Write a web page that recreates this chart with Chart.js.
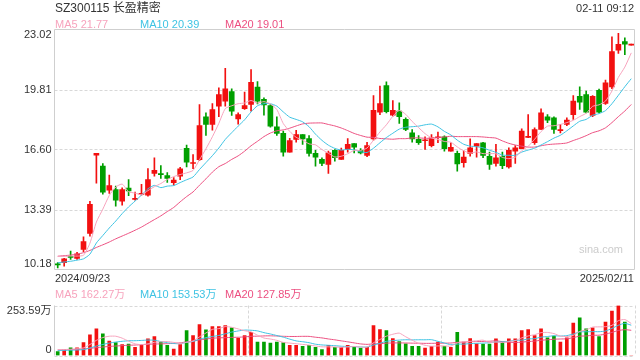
<!DOCTYPE html>
<html>
<head>
<meta charset="utf-8">
<script src="https://cdn.jsdelivr.net/npm/chart.js@4.4.1/dist/chart.umd.min.js"></script>
<style>
	body { margin: 0; background: #fff; }
	#wrap { position: relative; width: 640px; height: 360px; overflow: hidden; font-family: 'Liberation Sans', Arial, 'Noto Sans CJK SC', sans-serif; color: #333; }
	#wrap canvas { position: absolute; left: 0; }
	.t { position: absolute; white-space: nowrap; line-height: 16px; font-size: 11px; }
</style>
</head>
<body>
<div id="wrap">
	<canvas id="kline" width="640" height="272" style="top:0"></canvas>
	<canvas id="vol" width="640" height="88" style="top:272px"></canvas>
	<div class="t" id="title" style="left:55px;top:0;font-size:12px"></div>
	<div class="t" id="time" style="right:6px;top:0"></div>
	<div class="t" id="ma5" style="left:55px;top:16px"></div>
	<div class="t" id="ma10" style="left:140px;top:16px"></div>
	<div class="t" id="ma20" style="left:225px;top:16px"></div>
	<div class="t" id="startDate" style="left:55px;top:270px"></div>
	<div class="t" id="endDate" style="right:6px;top:270px"></div>
	<div class="t" id="vma5" style="left:55px;top:286px"></div>
	<div class="t" id="vma10" style="left:140px;top:286px"></div>
	<div class="t" id="vma20" style="left:225px;top:286px"></div>
	<div class="t" style="right:17px;top:241px;color:#ccc">sina.com</div>
</div>
<script>
const stockName = 'SZ300115 长盈精密'
const quoteTime = '02-11 09:12'
const startDate = '2024/09/23'
const endDate = '2025/02/11'

// daily candles, 2024/09/23 .. 2025/02/11
const open = [10.45, 10.54, 10.86, 10.77, 11.25, 12.11, 16.30, 15.71, 14.42, 14.46,
	13.83, 14.53, 13.93, 14.20, 14.15, 15.32, 15.31, 15.21, 14.82, 15.17,
	16.66, 15.85, 16.06, 18.35, 17.94, 18.92, 19.18, 19.70, 18.24, 18.79,
	19.01, 19.94, 19.28, 18.95, 17.81, 17.46, 16.46, 17.14, 17.40, 17.19,
	16.39, 16.07, 15.80, 16.55, 16.07, 16.60, 16.92, 16.56, 16.28, 17.17,
	18.60, 20.02, 18.44, 18.65, 18.21, 17.49, 17.14, 17.07, 16.81, 17.23,
	17.28, 16.51, 16.39, 15.89, 16.39, 16.78, 16.96, 16.24, 15.85, 16.24,
	15.67, 16.51, 16.64, 17.25, 16.96, 17.67, 18.35, 18.30, 17.61, 17.94,
	18.47, 19.44, 19.54, 18.42, 19.77, 19.06, 19.95, 21.91, 22.38, 22.18]
const close = [10.43, 10.75, 10.83, 11.02, 11.68, 13.66, 16.39, 14.32, 14.67, 13.89,
	14.46, 14.38, 13.96, 14.23, 14.99, 15.48, 15.26, 15.05, 14.96, 15.57,
	15.92, 15.90, 17.88, 17.94, 18.74, 19.54, 19.85, 18.65, 18.47, 18.95,
	20.20, 19.19, 18.99, 17.85, 17.46, 16.46, 17.08, 17.40, 17.17, 16.39,
	16.19, 15.85, 16.42, 16.16, 16.56, 16.87, 16.72, 16.42, 16.81, 18.70,
	19.06, 18.63, 18.69, 18.35, 17.67, 17.17, 16.96, 17.08, 17.23, 17.26,
	16.64, 16.72, 15.83, 16.19, 16.69, 16.92, 16.28, 15.80, 16.16, 15.74,
	16.55, 16.69, 17.58, 17.28, 17.67, 18.56, 18.17, 17.67, 17.62, 18.17,
	19.19, 19.13, 18.60, 19.45, 18.60, 20.17, 21.84, 22.22, 22.24, 22.18]
const high = [10.55, 10.78, 11.16, 11.10, 11.93, 13.83, 16.39, 15.85, 15.23, 14.64,
	14.55, 14.99, 14.32, 14.73, 15.58, 16.16, 15.74, 15.37, 15.10, 15.64,
	16.83, 16.33, 19.00, 18.56, 19.06, 19.90, 20.94, 19.85, 18.56, 19.67,
	20.88, 20.23, 19.37, 19.00, 18.35, 17.58, 17.20, 17.63, 17.40, 17.35,
	16.56, 16.16, 16.51, 16.60, 16.67, 17.19, 16.92, 16.65, 16.99, 19.49,
	19.99, 20.22, 19.22, 19.10, 18.30, 17.67, 17.35, 17.28, 17.40, 17.53,
	17.33, 16.96, 16.51, 16.53, 17.17, 16.92, 16.99, 16.46, 16.87, 16.46,
	16.69, 16.81, 17.71, 18.47, 17.76, 18.78, 18.47, 18.35, 17.94, 18.30,
	19.49, 19.95, 19.72, 19.49, 19.83, 20.31, 22.63, 22.81, 22.58, 22.18]
const low = [10.27, 10.36, 10.72, 10.72, 11.13, 11.96, 14.80, 14.21, 14.25, 13.57,
	13.62, 14.13, 13.89, 14.15, 14.10, 15.17, 15.05, 14.84, 14.69, 14.99,
	15.67, 15.57, 16.00, 17.35, 17.63, 18.35, 18.92, 18.42, 17.95, 18.74,
	18.65, 19.04, 18.43, 17.79, 17.35, 16.24, 16.46, 16.99, 16.87, 16.24,
	15.71, 15.74, 15.32, 15.98, 16.07, 16.46, 16.42, 16.37, 16.21, 17.10,
	18.47, 18.56, 18.38, 18.00, 17.61, 16.99, 16.87, 16.60, 16.74, 16.96,
	16.51, 16.51, 15.44, 15.65, 16.24, 16.19, 16.16, 15.53, 15.71, 15.57,
	15.60, 15.85, 16.64, 17.23, 16.87, 17.67, 18.03, 17.46, 17.49, 17.88,
	18.21, 18.74, 18.56, 18.35, 18.56, 19.01, 19.85, 21.74, 21.68, 22.18]

// price moving averages as drawn on the chart
const ma5 = [10.88, 10.88, 10.90, 10.90, 10.94, 11.59, 12.72, 13.41, 14.14, 14.59,
	14.75, 14.34, 14.27, 14.18, 14.40, 14.61, 14.78, 15.00, 15.15, 15.26,
	15.35, 15.48, 16.05, 16.64, 17.28, 18.00, 18.79, 18.94, 19.05, 19.09,
	19.22, 19.09, 19.16, 19.04, 18.74, 17.99, 17.57, 17.25, 17.11, 16.90,
	16.85, 16.60, 16.40, 16.20, 16.24, 16.37, 16.55, 16.55, 16.68, 17.10,
	17.54, 17.92, 18.38, 18.69, 18.48, 18.10, 17.77, 17.45, 17.22, 17.14,
	17.03, 16.99, 16.74, 16.53, 16.41, 16.47, 16.38, 16.38, 16.37, 16.18,
	16.11, 16.19, 16.54, 16.77, 17.15, 17.56, 17.85, 17.87, 17.94, 18.04,
	18.16, 18.36, 18.54, 18.91, 18.99, 19.19, 19.73, 20.46, 21.01, 21.77]
const ma10 = [10.54, 10.58, 10.62, 10.68, 10.75, 11.00, 11.60, 12.00, 12.40, 12.77,
	13.17, 13.53, 13.84, 14.16, 14.50, 14.68, 14.56, 14.64, 14.67, 14.83,
	14.98, 15.13, 15.53, 15.90, 16.27, 16.68, 17.14, 17.50, 17.85, 18.19,
	18.61, 18.94, 19.05, 19.05, 18.92, 18.61, 18.33, 18.21, 18.08, 17.82,
	17.42, 17.09, 16.83, 16.66, 16.57, 16.61, 16.58, 16.48, 16.44, 16.67,
	16.96, 17.24, 17.47, 17.69, 17.79, 17.82, 17.85, 17.92, 17.96, 17.81,
	17.57, 17.38, 17.10, 16.88, 16.78, 16.75, 16.69, 16.56, 16.45, 16.30,
	16.29, 16.29, 16.46, 16.57, 16.67, 16.84, 17.02, 17.21, 17.36, 17.60,
	17.86, 18.11, 18.21, 18.43, 18.52, 18.68, 19.05, 19.50, 19.96, 20.39]
const ma20 = [10.89, 10.92, 10.95, 11.00, 11.08, 11.20, 11.36, 11.50, 11.65, 11.82,
	11.97, 12.12, 12.28, 12.45, 12.65, 12.85, 13.05, 13.28, 13.50, 13.80,
	14.08, 14.33, 14.69, 15.03, 15.39, 15.68, 15.85, 16.07, 16.26, 16.51,
	16.80, 17.04, 17.29, 17.48, 17.60, 17.65, 17.74, 17.86, 17.97, 18.01,
	18.02, 18.02, 17.94, 17.86, 17.75, 17.61, 17.46, 17.35, 17.26, 17.25,
	17.19, 17.17, 17.15, 17.18, 17.18, 17.22, 17.22, 17.20, 17.20, 17.24,
	17.27, 17.31, 17.29, 17.29, 17.29, 17.29, 17.27, 17.24, 17.21, 17.06,
	16.93, 16.84, 16.78, 16.73, 16.73, 16.80, 16.86, 16.89, 16.91, 16.95,
	17.08, 17.20, 17.34, 17.50, 17.60, 17.76, 18.04, 18.36, 18.66, 19.01]

// volume, 万 shares
const volume = [20, 30, 39, 39, 66, 105, 135, 110, 73, 66,
	56, 58, 42, 54, 85, 96, 68, 51, 32, 56,
	127, 101, 157, 130, 147, 147, 152, 140, 88, 101,
	118, 68, 68, 63, 68, 65, 51, 51, 46, 51,
	42, 30, 51, 42, 42, 51, 42, 37, 42, 152,
	132, 127, 86, 71, 59, 46, 46, 37, 46, 68,
	46, 42, 118, 68, 86, 59, 58, 58, 84, 68,
	84, 84, 127, 132, 101, 135, 90, 98, 68, 90,
	164, 191, 135, 140, 96, 169, 225, 253.59, 169, 0]
const volMa5 = [30, 30, 32, 34, 38.8, 55.8, 76.8, 91, 97.8, 97.8,
	88, 72.6, 59, 55.2, 59, 67, 69, 70.8, 66.4, 60.6,
	66.8, 73.4, 94.6, 114.2, 132.4, 136.4, 146.6, 143.2, 134.8, 125.6,
	119.8, 103, 88.6, 83.6, 77, 66.4, 63, 59.6, 56.2, 52.8,
	48.2, 44, 44, 43.2, 41.4, 43.2, 45.6, 42.8, 42.8, 64.8,
	81, 98, 107.8, 113.6, 95, 77.8, 61.6, 51.8, 46.8, 48.6,
	48.6, 47.8, 64, 68.4, 72, 74.6, 77.8, 65.8, 69, 65.4,
	70.4, 75.6, 89.4, 99, 105.6, 115.8, 117, 111.2, 98.4, 96.2,
	102, 122.2, 129.6, 144, 145.2, 146.2, 153, 176.7, 182.5, 162.27]
const volMa10 = [25, 26, 27, 28, 30, 38, 48, 56, 63, 68.3,
	71.9, 74.7, 75, 76.5, 78.4, 77.5, 70.8, 64.9, 60.8, 59.8,
	66.9, 71.2, 82.7, 90.3, 96.5, 101.6, 110, 118.9, 124.5, 129,
	128.1, 124.8, 115.9, 109.2, 101.3, 93.1, 83, 74.1, 69.9, 64.9,
	57.3, 53.5, 51.8, 49.7, 47.1, 45.7, 44.8, 43.4, 43, 53.1,
	62.1, 71.8, 75.3, 78.2, 79.9, 79.4, 79.8, 79.8, 80.2, 71.8,
	63.2, 54.7, 57.9, 57.6, 60.3, 61.6, 62.8, 64.9, 68.7, 68.7,
	72.5, 76.7, 77.6, 84, 85.5, 93.1, 96.3, 100.3, 98.7, 100.9,
	108.9, 119.6, 120.4, 121.2, 120.7, 124.1, 137.6, 153.2, 163.3, 153.53]
const volMa20 = [28, 29, 30, 31, 33, 36, 40, 43, 46, 48,
	50, 52, 53, 55, 57, 58, 59, 60, 62, 64.1,
	69.4, 73, 78.9, 83.4, 87.5, 89.6, 90.4, 91.9, 92.7, 94.4,
	97.5, 98, 99.3, 99.8, 98.9, 97.4, 96.5, 96.5, 97.2, 97,
	92.7, 89.2, 83.9, 79.5, 74.2, 69.4, 63.9, 58.8, 56.5, 59,
	59.7, 62.7, 63.6, 64, 63.5, 62.6, 62.3, 61.6, 61.6, 62.5,
	62.7, 63.3, 66.6, 67.9, 70.1, 70.5, 71.3, 72.4, 74.5, 70.3,
	67.9, 65.7, 67.8, 70.8, 72.9, 77.4, 79.6, 82.6, 83.7, 84.8,
	90.7, 98.2, 99, 102.6, 103.1, 108.6, 117, 126.8, 131, 127.85]

// axis ticks
const priceTicks = [23.02, 19.81, 16.60, 13.39, 10.18]
const volTicks = [253.59, 0]

const UP = '#f21010'
const DOWN = '#009f00'
const C_MA5 = '#f7a3bd'
const C_MA10 = '#3ec3e3'
const C_MA20 = '#ec4f80'
const FONT = "11px 'Liberation Sans', Arial, 'Noto Sans CJK SC', sans-serif"

const labels = close.map((c, i) => i)
const candleColors = close.map((c, i) => (c >= open[i] ? UP : DOWN))

// header texts
const setText = (id, text, color) => {
	const el = document.getElementById(id)
	el.textContent = text
	if (color) el.style.color = color
}
const last = (arr) => arr[arr.length - 1]
setText('title', stockName)
setText('time', quoteTime)
setText('ma5', `MA5 ${last(ma5).toFixed(2)}`, C_MA5)
setText('ma10', `MA10 ${last(ma10).toFixed(2)}`, C_MA10)
setText('ma20', `MA20 ${last(ma20).toFixed(2)}`, C_MA20)
setText('startDate', startDate)
setText('endDate', endDate)
setText('vma5', `MA5 ${last(volMa5).toFixed(2)}万`, C_MA5)
setText('vma10', `MA10 ${last(volMa10).toFixed(2)}万`, C_MA10)
setText('vma20', `MA20 ${last(volMa20).toFixed(2)}万`, C_MA20)

// grid, frame and y labels drawn against the chart's own scales
const frame = {
	id: 'frame',
	beforeDatasetsDraw(chart, args, opts) {
		const { ctx, chartArea: a, scales } = chart
		ctx.save()
		ctx.strokeStyle = '#d8d8d8'
		ctx.lineWidth = 1
		ctx.setLineDash([3, 2])
		ctx.beginPath()
		opts.gridY.forEach((v) => {
			const y = Math.round(scales.y.getPixelForValue(v)) + 0.5
			ctx.moveTo(a.left, y)
			ctx.lineTo(a.right, y)
		})
		opts.gridX.forEach((f) => {
			const x = Math.round(a.left + (a.right - a.left) * f) + 0.5
			ctx.moveTo(x, a.top)
			ctx.lineTo(x, a.bottom)
		})
		ctx.stroke()
		ctx.restore()
	},
	afterDraw(chart, args, opts) {
		const { ctx, chartArea: a, scales } = chart
		ctx.save()
		ctx.strokeStyle = '#cfcfcf'
		ctx.lineWidth = 1
		ctx.beginPath()
		opts.solid.forEach((side) => {
			if (side === 'left') { ctx.moveTo(a.left, a.top); ctx.lineTo(a.left, a.bottom) }
			if (side === 'right') { ctx.moveTo(a.right, a.top); ctx.lineTo(a.right, a.bottom) }
			if (side === 'top') { ctx.moveTo(a.left, a.top); ctx.lineTo(a.right, a.top) }
			if (side === 'bottom') { ctx.moveTo(a.left, a.bottom); ctx.lineTo(a.right, a.bottom) }
		})
		ctx.stroke()
		ctx.font = FONT
		ctx.fillStyle = '#333'
		ctx.textAlign = 'right'
		ctx.textBaseline = 'middle'
		const { min, max } = scales.y
		opts.ticks.forEach((v) => {
			let y = scales.y.getPixelForValue(v)
			if (v === max) y += 5
			if (v === min) y -= 6
			ctx.fillText(opts.format(v), a.left - 3, y)
		})
		ctx.restore()
	},
}

const baseOptions = {
	responsive: false,
	animation: false,
	events: [],
	plugins: { legend: { display: false }, tooltip: { enabled: false } },
}

const line = (data, color) => ({
	type: 'line',
	data,
	borderColor: color,
	borderWidth: 1,
	pointRadius: 0,
	tension: 0.2,
	order: 1,
})

new Chart(document.getElementById('kline'), {
	data: {
		labels,
		datasets: [
			line(ma5, C_MA5),
			line(ma10, C_MA10),
			line(ma20, C_MA20),
			{
				type: 'bar',
				data: open.map((o, i) => [o, close[i]]),
				backgroundColor: candleColors,
				barThickness: 5,
				minBarLength: 1,
				grouped: false,
				order: 2,
			},
			{
				type: 'bar',
				data: low.map((l, i) => [l, high[i]]),
				backgroundColor: candleColors,
				barThickness: 1,
				minBarLength: 1,
				grouped: false,
				order: 3,
			},
		],
	},
	options: {
		...baseOptions,
		layout: { padding: { left: 54.5, right: 5.5, top: 29.5, bottom: 2.5 } },
		scales: {
			x: { type: 'category', display: false, offset: true },
			y: { display: false, min: last(priceTicks), max: priceTicks[0] },
		},
		plugins: {
			...baseOptions.plugins,
			frame: {
				gridY: priceTicks.slice(1, -1),
				gridX: [],
				solid: ['left', 'right', 'top', 'bottom'],
				ticks: priceTicks,
				format: (v) => v.toFixed(2),
			},
		},
	},
	plugins: [frame],
})

new Chart(document.getElementById('vol'), {
	data: {
		labels,
		datasets: [
			line(volMa5, C_MA5),
			line(volMa10, C_MA10),
			line(volMa20, C_MA20),
			{
				type: 'bar',
				data: volume,
				backgroundColor: candleColors,
				barThickness: 3,
				order: 2,
			},
		],
	},
	options: {
		...baseOptions,
		layout: { padding: { left: 54.5, right: 5.5, top: 33.5, bottom: 4.5 } },
		scales: {
			x: { type: 'category', display: false, offset: true },
			y: { display: false, min: 0, max: volTicks[0] },
		},
		plugins: {
			...baseOptions.plugins,
			frame: {
				gridY: volTicks,
				gridX: [1 / 3, 2 / 3, 1],
				solid: ['left'],
				ticks: volTicks,
				format: (v) => (v === 0 ? '0' : `${v.toFixed(2)}万`),
			},
		},
	},
	plugins: [frame],
})
</script>
</body>
</html>
